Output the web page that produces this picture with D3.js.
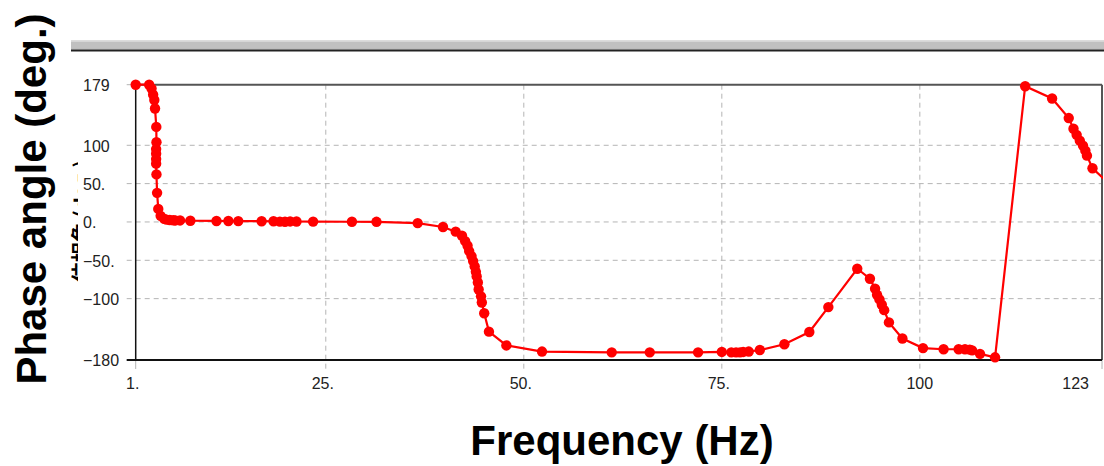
<!DOCTYPE html>
<html lang="en">
<head>
    <meta charset="UTF-8">
    <title>Phase angle vs frequency</title>
    <script src="https://d3js.org/d3.v7.min.js"></script>
    <style>
        body { margin: 0; background: #fff; }
        text { font-family: "Liberation Sans", Arial, sans-serif; }
    </style>
</head>
<body>
    <div id="my_dataviz"></div>
    <script>

        // data
        const freq = [1.0, 2.7, 3.0, 3.2, 3.35, 3.44, 3.6, 3.62, 3.58, 3.58, 3.58, 3.58, 3.62, 3.7, 3.85, 4.15,
            4.6, 4.9, 5.3, 5.75, 6.0, 6.6, 7.9, 11.2, 12.7, 13.95, 16.9, 18.4, 19.2, 19.85, 20.5, 21.3, 23.4,
            28.3, 31.4, 36.6, 39.8, 41.4, 42.2, 42.6, 42.9, 43.1, 43.4, 43.6, 43.8, 43.95, 44.05, 44.2, 44.3,
            44.6, 44.7, 45.0, 45.6, 47.8, 52.3, 61.1, 65.9, 72.0, 75.0, 76.2, 76.8, 77.3, 77.7, 78.4, 79.8,
            82.9, 86.05, 88.45, 92.1, 93.7, 94.35, 94.6, 94.9, 95.2, 95.5, 96.1, 97.8, 100.4, 103.0, 104.9,
            105.7, 106.3, 106.6, 107.6, 109.5, 113.3, 116.7, 118.8, 119.4, 119.8, 120.2, 120.6, 120.9, 121.1,
            121.8, 124.3];
        const phase = [179, 179, 174, 166, 159, 148, 124, 104, 95, 89, 82, 76, 62, 38, 17, 8,
            4, 3, 2.5, 2.2, 2, 2, 1.6, 1.3, 1.2, 1.1, 1.0, 0.9, 0.5, 0.3, 0.7, 0.6, 0.5,
            0.3, 0.2, -1.5, -6.5, -12.6, -18, -25, -31, -38, -44.5, -51, -58, -65, -71, -79, -88,
            -97, -105, -119, -143, -161, -169, -170, -170, -170, -169.5, -170, -170, -170, -169.5, -169, -167,
            -159.5, -143.5, -111, -61, -74, -87, -95, -101, -108, -115, -131, -152, -164.5, -166, -166,
            -166, -166.5, -167.5, -172, -176.5, 177, 161, 135.5, 121.5, 113.6, 106, 99.6, 93, 86.5,
            70, 46];

        const xTicks = [1, 25, 50, 75, 100, 123];
        const xTickLabels = ["1.", "25.", "50.", "75.", "100", "123"];
        const yTicks = [179, 100, 50, 0, -50, -100, -180];
        const yTickLabels = ["179", "100", "50.", "0.", "\u221250.", "\u2212100", "\u2212180"];

        const data = freq.map((f, i) => ({ f: f, p: phase[i] }));

        const W = 1104, H = 466;
        const plot = { left: 135.7, right: 1102, top: 84.7, bottom: 360 };

        const svg = d3.select("#my_dataviz")
          .append("svg")
            .attr("width", W)
            .attr("height", H);

        const x = d3.scaleLinear().domain([1, 123]).range([plot.left, plot.right]);
        const y = d3.scaleLinear().domain([-180, 179]).range([plot.bottom, plot.top]);

        // grey header bar
        const bar = svg.append("g");
        bar.append("rect").attr("x", 71).attr("y", 40).attr("width", W - 71).attr("height", 1.5).attr("fill", "#dcdcdc");
        bar.append("rect").attr("x", 71).attr("y", 41.5).attr("width", W - 71).attr("height", 7).attr("fill", "#c0c0c0");
        bar.append("rect").attr("x", 71).attr("y", 48.5).attr("width", W - 71).attr("height", 1).attr("fill", "#9a9a9a");
        bar.append("rect").attr("x", 71).attr("y", 49.5).attr("width", W - 71).attr("height", 2).attr("fill", "#222");

        // leftover of the original axis label, mostly hidden
        svg.append("clipPath").attr("id", "oldlbl")
          .append("rect").attr("x", 60).attr("y", 150).attr("width", 18).attr("height", 140);
        svg.append("g")
            .attr("clip-path", "url(#oldlbl)")
          .append("text")
            .attr("transform", "translate(89,221) rotate(-90)")
            .attr("text-anchor", "middle")
            .style("font-family", "'Noto Sans CJK JP', sans-serif")
            .style("font-size", "20px")
            .style("font-weight", "bold")
            .attr("fill", "#000")
            .text("位相角 (deg.)");

        // dashed grid
        svg.append("g")
          .selectAll("line")
          .data(xTicks.filter(d => d > 1 && d < 123))
          .join("line")
            .attr("x1", d => x(d)).attr("x2", d => x(d))
            .attr("y1", plot.top).attr("y2", plot.bottom + 9)
            .attr("stroke", "#b4b4b4").attr("stroke-dasharray", "5,4");
        svg.append("g")
          .selectAll("line")
          .data(yTicks.filter(d => d > -180 && d < 179))
          .join("line")
            .attr("x1", plot.left - 9).attr("x2", plot.right)
            .attr("y1", d => y(d)).attr("y2", d => y(d))
            .attr("stroke", "#b4b4b4").attr("stroke-dasharray", "5,4");

        // tick marks
        svg.append("g")
          .selectAll("line")
          .data([1, 123])
          .join("line")
            .attr("x1", d => x(d)).attr("x2", d => x(d))
            .attr("y1", plot.bottom).attr("y2", plot.bottom + 9)
            .attr("stroke", "#b4b4b4");
        svg.append("g")
          .selectAll("line")
          .data([179, -180])
          .join("line")
            .attr("x1", plot.left - 9).attr("x2", plot.left)
            .attr("y1", d => y(d)).attr("y2", d => y(d))
            .attr("stroke", "#b4b4b4");

        // frame
        svg.append("line").attr("x1", plot.left).attr("x2", plot.right).attr("y1", plot.top).attr("y2", plot.top)
            .attr("stroke", "#555").attr("stroke-width", 2);
        svg.append("line").attr("x1", plot.right).attr("x2", plot.right).attr("y1", plot.top).attr("y2", plot.bottom)
            .attr("stroke", "#555").attr("stroke-width", 2);
        svg.append("line").attr("x1", plot.left).attr("x2", plot.left).attr("y1", plot.top).attr("y2", plot.bottom)
            .attr("stroke", "#111").attr("stroke-width", 1.5);
        svg.append("line").attr("x1", plot.left - 9).attr("x2", plot.right).attr("y1", plot.bottom).attr("y2", plot.bottom)
            .attr("stroke", "#111").attr("stroke-width", 2);

        // tick labels
        svg.append("g")
          .selectAll("text")
          .data(yTicks)
          .join("text")
            .attr("x", 83)
            .attr("y", d => y(d))
            .attr("dy", "0.4em")
            .attr("fill", "#222")
            .style("font-size", "16px")
            .text((d, i) => yTickLabels[i]);
        svg.append("g")
          .selectAll("text")
          .data(xTicks)
          .join("text")
            .attr("x", d => d === 123 ? x(d) - 13 : x(d) - (d === 100 ? 0 : 3))
            .attr("y", 389)
            .attr("text-anchor", d => d === 123 ? "end" : "middle")
            .attr("fill", "#222")
            .style("font-size", "16px")
            .text((d, i) => xTickLabels[i]);

        // the series
        svg.append("clipPath").attr("id", "plotclip")
          .append("rect").attr("x", 0).attr("y", 0).attr("width", plot.right + 1).attr("height", H);

        const series = svg.append("g").attr("clip-path", "url(#plotclip)");
        series.append("path")
            .datum(data)
            .attr("fill", "none")
            .attr("stroke", "#ff0000")
            .attr("stroke-width", 2.2)
            .attr("d", d3.line().x(d => x(d.f)).y(d => y(d.p)));
        series.selectAll("circle")
          .data(data)
          .join("circle")
            .attr("cx", d => x(d.f))
            .attr("cy", d => y(d.p))
            .attr("r", 5.2)
            .attr("fill", "#ff0000");

        // axis titles
        svg.append("text")
            .attr("x", 622)
            .attr("y", 455)
            .attr("text-anchor", "middle")
            .style("font-size", "42px")
            .style("font-weight", "bold")
            .attr("fill", "#000")
            .text("Frequency (Hz)");
        svg.append("text")
            .attr("transform", "translate(46,199) rotate(-90)")
            .attr("text-anchor", "middle")
            .style("font-size", "42px")
            .style("font-weight", "bold")
            .attr("fill", "#000")
            .text("Phase angle (deg.)");

    </script>
</body>
</html>
